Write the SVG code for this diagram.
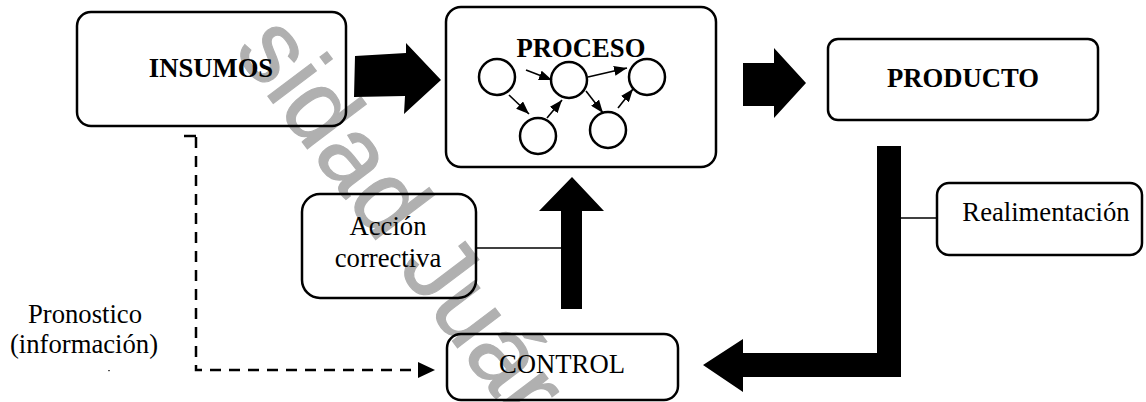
<svg xmlns="http://www.w3.org/2000/svg" width="1146" height="402" viewBox="0 0 1146 402">
  <defs>
    <style>
      .box { fill: none; stroke: #000; stroke-width: 2.5; }
      .node { fill: none; stroke: #000; stroke-width: 2.5; }
      .title { font-family: "Liberation Serif", "Times New Roman", serif; font-size: 26.67px; font-weight: bold; fill: #000; text-anchor: middle; }
      .label { font-family: "Liberation Serif", "Times New Roman", serif; font-size: 26.67px; fill: #000; text-anchor: middle; }
      .big { fill: #000; stroke: none; }
      .thin { stroke: #000; stroke-width: 1.3; fill: none; }
      .small { stroke: #000; stroke-width: 1.6; fill: none; marker-end: url(#head); }
      .dash { stroke: #000; stroke-width: 2.5; fill: none; stroke-dasharray: 11 8; }
      .mark { font-family: "Liberation Sans", Arial, sans-serif; font-size: 102px; fill: #b0b0b0; stroke: #b0b0b0; stroke-width: 1.2; }
    </style>
    <marker id="head" markerUnits="userSpaceOnUse" markerWidth="14" markerHeight="10" refX="13" refY="5" orient="auto">
      <path d="M0,0 L13,5 L0,10 z" fill="#000"/>
    </marker>
  </defs>

  <!-- background watermark -->
  <text class="mark" transform="translate(233,50) rotate(53)">sidad Juár</text>

  <!-- boxes -->
  <g id="insumos">
    <rect class="box" x="77" y="12" width="269" height="114" rx="14"/>
    <text class="title" x="211" y="77">INSUMOS</text>
  </g>

  <g id="proceso">
    <rect class="box" x="446" y="7" width="270" height="160" rx="15"/>
    <text class="title" x="581" y="57">PROCESO</text>
    <circle class="node" cx="497" cy="77" r="18"/>
    <circle class="node" cx="569" cy="80" r="18"/>
    <circle class="node" cx="647" cy="77" r="18"/>
    <circle class="node" cx="538" cy="136" r="18"/>
    <circle class="node" cx="608" cy="130" r="18"/>
    <line class="small" x1="526" y1="70" x2="552" y2="80"/>
    <line class="small" x1="588" y1="77" x2="627" y2="68"/>
    <line class="small" x1="509" y1="95" x2="529" y2="114"/>
    <line class="small" x1="547" y1="118" x2="562" y2="100"/>
    <line class="small" x1="586" y1="91" x2="603" y2="113"/>
    <line class="small" x1="618" y1="108" x2="633" y2="89"/>
  </g>

  <g id="producto">
    <rect class="box" x="828" y="39" width="270" height="81" rx="10"/>
    <text class="title" x="963" y="87">PRODUCTO</text>
  </g>

  <g id="accion">
    <rect class="box" x="302" y="194" width="174" height="104" rx="18"/>
    <text class="label" x="388" y="235">Acción</text>
    <text class="label" x="388" y="267">correctiva</text>
  </g>

  <g id="realimentacion">
    <rect class="box" x="937" y="183" width="205" height="72" rx="12"/>
    <text class="label" x="1046" y="221">Realimentación</text>
  </g>

  <g id="control">
    <rect class="box" x="447" y="334" width="231" height="66" rx="14"/>
    <text class="label" x="562" y="373">CONTROL</text>
  </g>

  <g id="pronostico">
    <text class="label" x="85" y="323">Pronostico</text>
    <text class="label" x="84" y="353">(información)</text>
    <rect x="108" y="370" width="2" height="1.2" fill="#555"/>
  </g>

  <!-- connectors -->
  <g id="connectors">
    <!-- insumos to proceso -->
    <polygon class="big" points="355,56 406,53 406,43 441,80 404,114 405,96 354,97"/>
    <!-- proceso to producto -->
    <polygon class="big" points="743,63 774,63 774,48 806,83 774,118 774,106 743,106"/>
    <!-- feedback from producto down and back to control -->
    <polygon class="big" points="877,146 901,146 901,377 743,377 743,392 703,365 743,339 743,353 877,353"/>
    <!-- control up to proceso -->
    <polygon class="big" points="561,309 561,211 539,211 572,177 604,211 582,211 582,309"/>
    <!-- label leaders -->
    <line class="thin" x1="476" y1="248" x2="566" y2="248"/>
    <line class="thin" x1="901" y1="218" x2="937" y2="218"/>
    <!-- forecast dashed path -->
    <line x1="184" y1="136" x2="196" y2="136" stroke="#000" stroke-width="2.5"/>
    <polyline class="dash" points="196,137 196,370 420,370"/>
    <polygon class="big" points="418,362 435,370 418,378"/>
  </g>
</svg>
